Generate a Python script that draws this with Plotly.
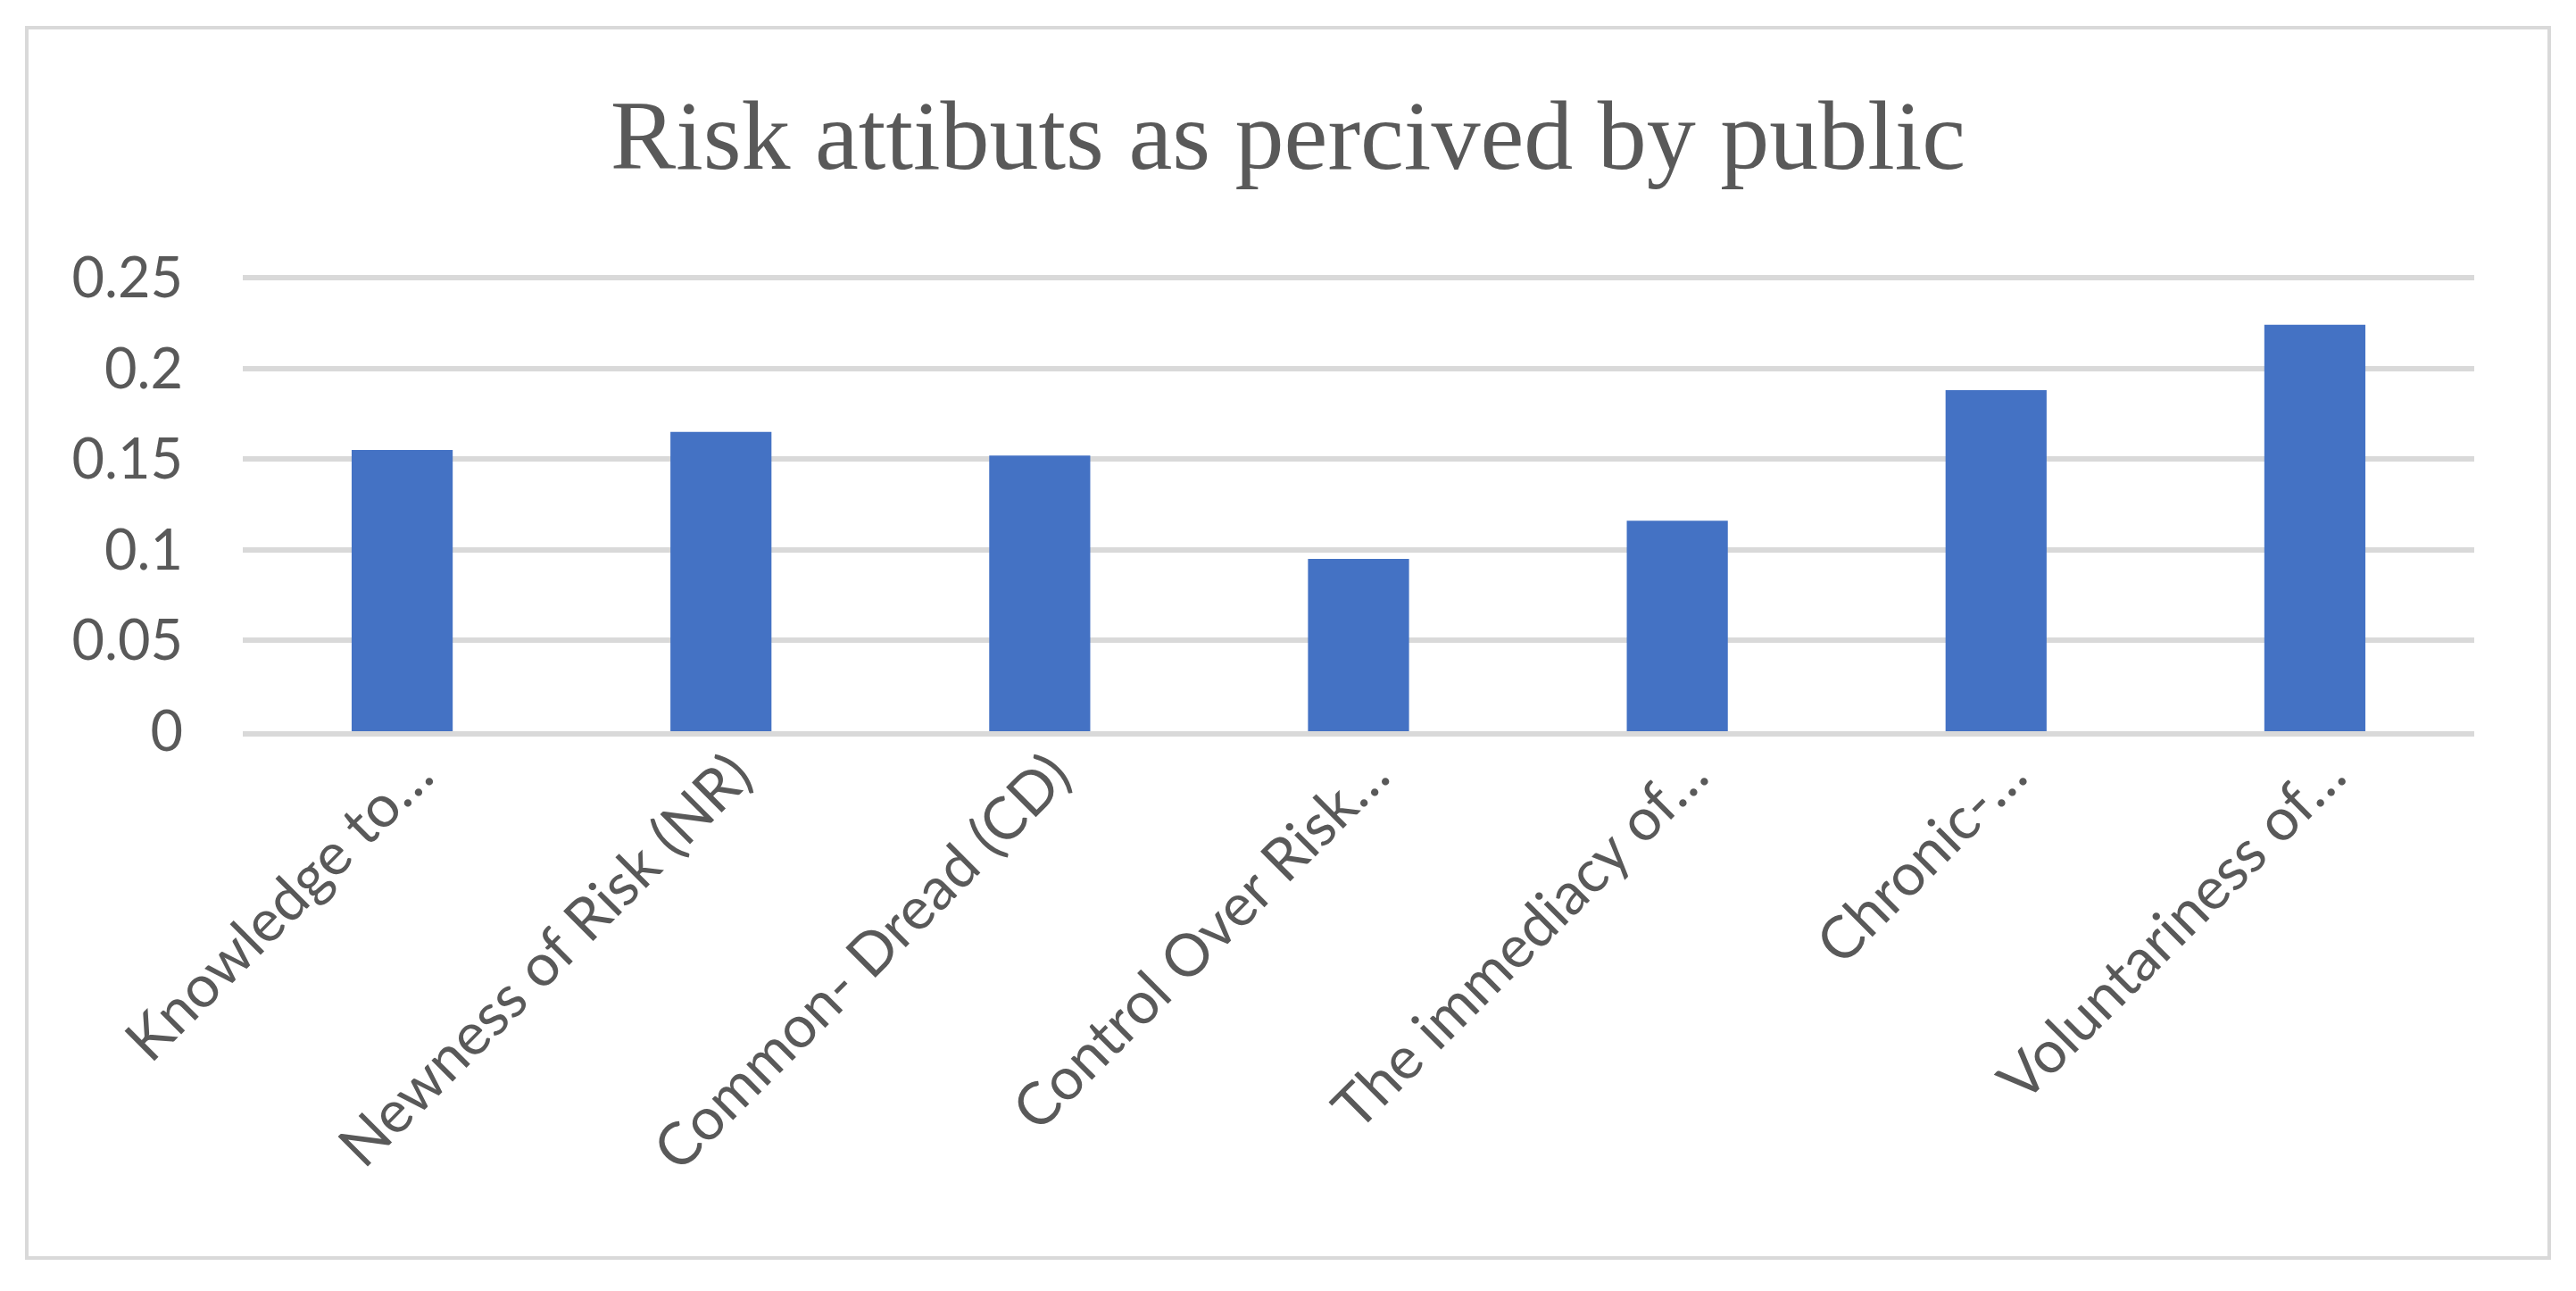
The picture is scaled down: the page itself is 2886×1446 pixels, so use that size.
import plotly.graph_objects as go

categories = [
    "Knowledge to…",
    "Newness of Risk (NR)",
    "Common- Dread (CD)",
    "Control Over Risk…",
    "The immediacy of…",
    "Chronic-…",
    "Voluntariness of…",
]
values = [0.155, 0.165, 0.152, 0.095, 0.116, 0.188, 0.224]
y_ticks = [0, 0.05, 0.1, 0.15, 0.2, 0.25]
y_tick_labels = ["0", "0.05", "0.1", "0.15", "0.2", "0.25"]
title_text = "Risk attibuts as percived by public"

W, H = 2886, 1446
T, B, L, R = 308, 627, 272, 114
grey_text = "#595959"
grid = "#d9d9d9"

fig = go.Figure(
    go.Bar(x=categories, y=values, marker=dict(color="#4472c4", line=dict(width=0)))
)

fig.update_layout(
    width=W,
    height=H,
    paper_bgcolor="white",
    plot_bgcolor="white",
    margin=dict(l=L, r=R, t=T, b=B, autoexpand=False),
    bargap=0.683,
    showlegend=False,
    title=dict(
        text=title_text,
        x=0.5,
        xanchor="center",
        xref="container",
        yref="container",
        y=1 - 150 / H,
        yanchor="middle",
        font=dict(family="Liberation Serif, Times New Roman, serif", size=110, color=grey_text),
    ),
    shapes=[
        dict(
            type="rect",
            xref="paper",
            yref="paper",
            x0=(30 - L) / (W - L - R),
            x1=(2856 - L) / (W - L - R),
            y0=(H - B - 1409) / (H - T - B),
            y1=(H - B - 31) / (H - T - B),
            line=dict(color=grid, width=4),
            fillcolor="rgba(0,0,0,0)",
            layer="below",
        )
    ],
)

fig.update_yaxes(
    range=[0, 0.2515],
    tickvals=y_ticks,
    ticktext=y_tick_labels,
    showgrid=True,
    gridcolor=grid,
    gridwidth=6,
    zeroline=False,
    showline=False,
    ticks="",
    ticklabelstandoff=66,
    tickfont=dict(family="Lato, Carlito, Calibri, sans-serif", size=63, color=grey_text),
)

fig.update_xaxes(
    showgrid=False,
    showline=True,
    linecolor=grid,
    linewidth=6,
    layer="above traces",
    ticks="",
    tickangle=-45,
    ticklabelstandoff=-22,
    ticklabelshift=15,
    tickfont=dict(family="Lato, Carlito, Calibri, sans-serif", size=66, color=grey_text),
)

fig.write_html(
    "out.html",
    config={"displayModeBar": False},
    post_script="document.body.style.margin='0';document.body.style.padding='0';",
)
